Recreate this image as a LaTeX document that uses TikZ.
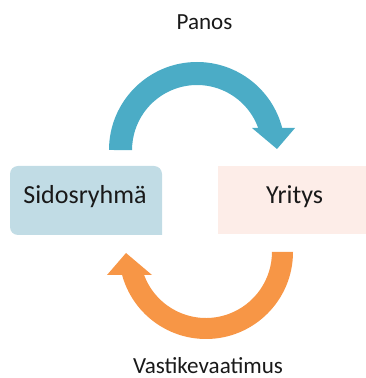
\documentclass[tikz,border=0pt]{standalone}
\usepackage{fontspec}
\setmainfont{Carlito}
\definecolor{aqua}{HTML}{4BACC6}
\definecolor{orangeac}{HTML}{F79646}
\definecolor{boxblue}{HTML}{C1DCE5}
\definecolor{boxpink}{HTML}{FDEDE8}
\begin{document}
\begin{tikzpicture}[x=0.75pt,y=0.75pt,
  lbl/.style={anchor=base,inner sep=0pt,text=black!90},
  boxtext/.style={lbl,font=\fontsize{19.5pt}{22pt}\selectfont},
  captext/.style={lbl,font=\fontsize{17.3pt}{20pt}\selectfont}]
\useasboundingbox (0,0) rectangle (366,378);

% the two parties
\fill[boxblue,rounded corners=6pt] (162,143) -- (10,143) -- (10,212) -- (162,212) [sharp corners] -- cycle;
\fill[boxpink] (218,144) rectangle (366,212);
\node[boxtext] (sid) at (85,174) {Sidosryhmä};
\node[boxtext] (yri) at (294.5,174) {Yritys};

% upper curved arrow (input)
\fill[aqua] (109,228) arc[start angle=180,end angle=14.5,radius=66pt]
  -- (295,250) -- (277,229) -- (252,250) -- (258.2,250)
  arc[start angle=19.8,end angle=180,radius=48.75pt] -- cycle;

% lower curved arrow (compensation)
\fill[orangeac] (293,126) arc[start angle=0,end angle=-164.7,radius=65.25pt]
  -- (107,103) -- (126,125) -- (152,103) -- (144.1,103)
  arc[start angle=-159.6,end angle=0,radius=49.5pt] -- cycle;

\node[captext] (panos) at (204.5,348) {Panos};
\node[captext] (vast) at (208,4) {Vastikevaatimus};
\end{tikzpicture}
\end{document}
